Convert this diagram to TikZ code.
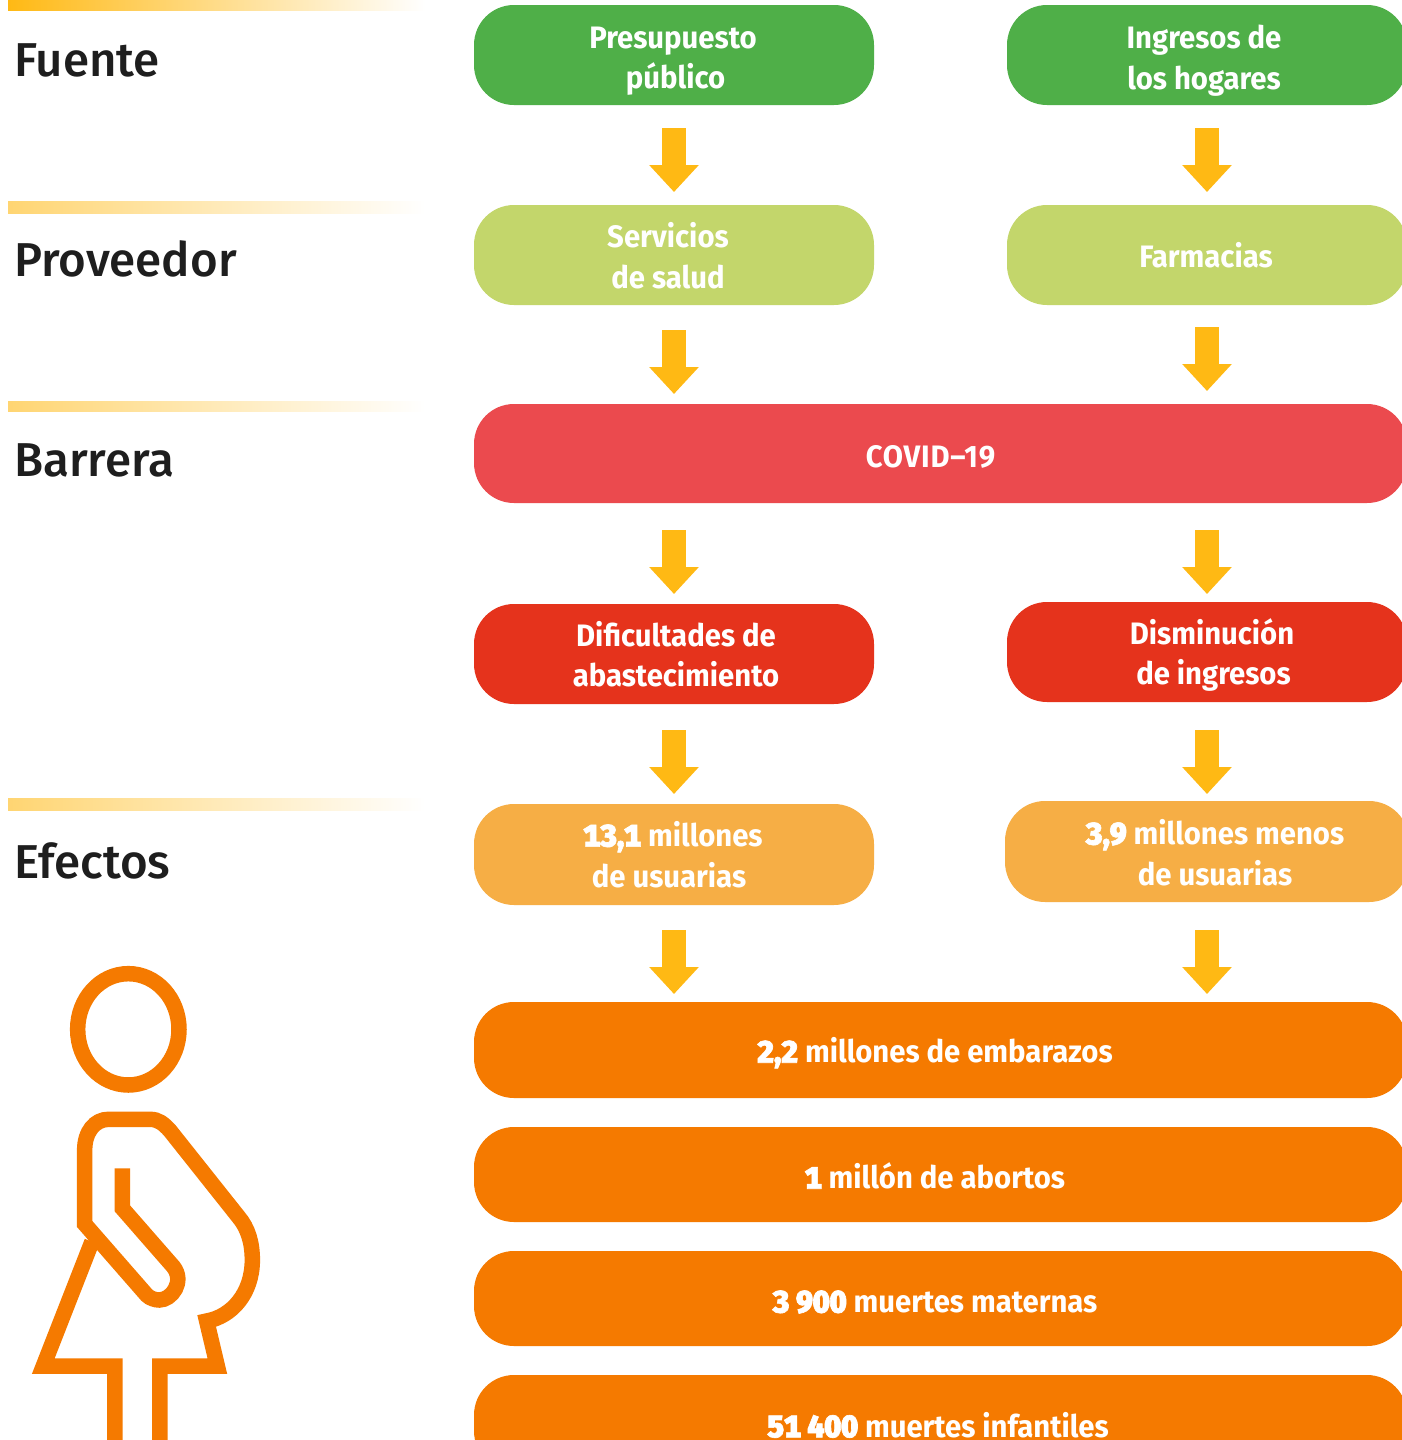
\documentclass[tikz,border=0pt]{standalone}
\usepackage{fontspec}
\setmainfont{Fira Sans}
\newfontfamily\labelfont{Fira Sans Medium}
\newfontfamily\pillfont[FakeStretch=0.945,BoldFeatures={FakeStretch=0.945}]{Fira Sans}
\newfontfamily\numfont[FakeStretch=0.97,FakeBold=2,Numbers=Monospaced]{Fira Sans Bold}
\usetikzlibrary{arrows.meta,calc,shadings}
\definecolor{cgreen}{HTML}{4FAF48}
\definecolor{clime}{HTML}{C3D66B}
\definecolor{ccoral}{HTML}{EB4A4E}
\definecolor{cred}{HTML}{E5331C}
\definecolor{ctan}{HTML}{F6AE45}
\definecolor{corange}{HTML}{F57A00}
\definecolor{carrow}{HTML}{FFB914}
\definecolor{cink}{HTML}{1E1E1E}
\tikzset{
  pillbox/.style={rectangle,rounded corners=40pt,draw=none,inner sep=0pt,outer sep=0pt},
  pilltext/.style={text=white,font=\pillfont\bfseries\fontsize{31}{40.5}\selectfont,align=center,inner sep=0pt,anchor=center},
  rowlabel/.style={text=cink,font=\labelfont\fontsize{47.5}{60}\selectfont,anchor=base west,inner sep=0pt},
  rowbar/.style={draw=none,left color=#1,right color=white},
  blockarrow/.style={draw=carrow,line width=24pt,-{Triangle[width=48pt,length=27pt,fill=carrow]}},
  figline/.style={draw=corange,line width=15.5pt,fill=none,miter limit=10}
}
\newcommand{\pill}[6]{% name, x0, y0, x1, y1, colour
  \node[pillbox,fill=#6,minimum width=#4pt-#2pt,minimum height=#5pt-#3pt] (#1) at ({(#2+#4)/2},{(#3+#5)/2}) {};
}
\newcommand{\num}[1]{{\numfont #1}}
\begin{document}
\begin{tikzpicture}[x=1pt,y=-1pt]
\clip (0,0) rectangle (1402,1440);
\fill[white] (0,0) rectangle (1402,1440);
% bars
\fill[rowbar=carrow] (8,-2) rectangle (425,10);
\fill[rowbar=carrow!60] (8,201) rectangle (425,213);
\fill[rowbar=carrow!60] (8,401) rectangle (425,411);
\fill[rowbar=carrow!60] (8,798) rectangle (425,810);
% row labels
\node[rowlabel] (lfuente) at (14,76) {Fuente};
\node[rowlabel] (lprov) at (14,276) {Proveedor};
\node[rowlabel] (lbarr) at (14,476) {Barrera};
\node[rowlabel] (lefec) at (14,878) {Efectos};
% pills
\pill{pres}{474}{5}{874}{105}{cgreen}
\pill{ingr}{1007}{5}{1407}{105}{cgreen}
\pill{serv}{474}{205}{874}{305}{clime}
\pill{farm}{1007}{205}{1407}{305}{clime}
\pill{covid}{474}{404}{1407}{503}{ccoral}
\pill{difi}{474}{604}{874}{704}{cred}
\pill{dism}{1007}{602}{1407}{702}{cred}
\pill{usua}{474}{804}{874}{905}{ctan}
\pill{menos}{1005}{801}{1409}{902}{ctan}
\pill{emba}{474}{1002}{1407}{1098}{corange}
\pill{abor}{474}{1127}{1407}{1222}{corange}
\pill{mate}{474}{1251}{1407}{1346}{corange}
\pill{infa}{474}{1375}{1407}{1471}{corange}
% pill texts
\node[pilltext] (tpres) at (673,61) {Presupuesto\\\hspace*{5pt}público};
\node[pilltext] (tingr) at (1204,60.5) {Ingresos de\\los hogares};
\node[pilltext] (tserv) at (668,255.5) {Servicios\\de salud};
\node[pilltext] (tfarm) at (1206,255) {Farmacias};
\node[pilltext] (tcovid) at (930.5,457) {\addfontfeature{LetterSpace=2.5}COVID–19};
\node[pilltext] (tdifi) at (676,654) {Dificultades de\\abastecimiento};
\node[pilltext] (tdism) at (1212,655) {Disminución\\\hspace*{3pt}de ingresos};
\node[pilltext] (tusua) at (673,854.5) {\num{13,1} millones\\de usuarias\hspace*{8pt}};
\node[pilltext] (tmenos) at (1215,852.5) {\num{3,9} millones menos\\de usuarias};
\node[pilltext] (temba) at (935,1053) {\num{2,2} millones de embarazos};
\node[pilltext] (tabor) at (935,1176) {\num{1} millón de abortos};
\node[pilltext] (tmate) at (935,1302) {\num{3 900} muertes maternas};
\node[pilltext] (tinfa) at (938,1425) {\num{51 400} muertes infantiles};
% arrows
\draw[blockarrow,shorten <=23pt,shorten >=13pt] (pres.south) -- (serv.north);
\draw[blockarrow,shorten <=23pt,shorten >=13pt] (ingr.south) -- (farm.north);
\draw[blockarrow,shorten <=25pt,shorten >=10pt] (serv.south) -- (serv.south |- covid.north);
\draw[blockarrow,shorten <=22pt,shorten >=13pt] (farm.south) -- (farm.south |- covid.north);
\draw[blockarrow,shorten <=27pt,shorten >=10pt] (difi.north |- covid.south) -- (difi.north);
\draw[blockarrow,shorten <=27pt,shorten >=8pt] (dism.north |- covid.south) -- (dism.north);
\draw[blockarrow,shorten <=26pt,shorten >=10pt] (difi.south) -- (usua.north);
\draw[blockarrow,shorten <=28pt,shorten >=7pt] (dism.south) -- (dism.south |- menos.north);
\draw[blockarrow,shorten <=25pt,shorten >=8pt] (usua.south) -- (usua.south |- emba.north);
\draw[blockarrow,shorten <=28pt,shorten >=8pt] (dism.south |- menos.south) -- (dism.south |- emba.north);
% figure
\begin{scope}[shift={(0pt,-950pt)},x=0.33333pt,y=-0.33333pt]
\draw[figline] (385,238) ellipse [x radius=152,y radius=167];
\draw[figline] (367,655) -- (367,775) -- (520,950)
  .. controls (555,995) and (515,1050) .. (478,1050)
  .. controls (465,1050) and (450,1045) .. (440,1035)
  -- (254,822) -- (254,600)
  .. controls (254,545) and (285,508) .. (325,508)
  -- (450,508)
  .. controls (475,508) and (490,520) .. (510,542)
  -- (715,800)
  .. controls (745,835) and (757,880) .. (757,930)
  .. controls (757,1030) and (695,1100) .. (620,1113)
  -- (652,1248) -- (480,1248) -- (480,1490);
\draw[figline] (276,875) -- (130,1248) -- (345,1248) -- (345,1490);
\end{scope}
\end{tikzpicture}
\end{document}
